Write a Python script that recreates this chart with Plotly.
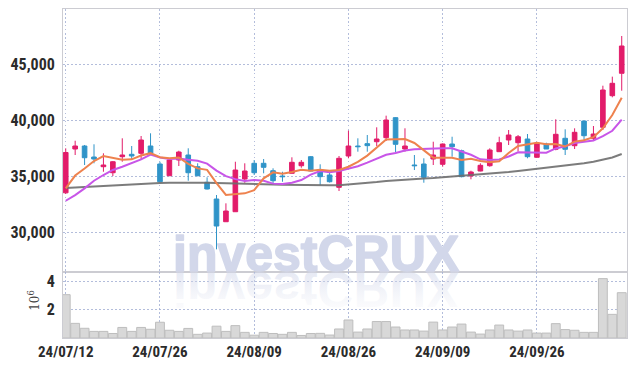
import plotly.graph_objects as go
from plotly.subplots import make_subplots

dates = ["24/07/12", "24/07/15", "24/07/16", "24/07/17", "24/07/18", "24/07/19",
         "24/07/22", "24/07/23", "24/07/24", "24/07/25", "24/07/26", "24/07/29",
         "24/07/30", "24/07/31", "24/08/01", "24/08/02", "24/08/05", "24/08/06",
         "24/08/07", "24/08/08", "24/08/09", "24/08/12", "24/08/13", "24/08/14",
         "24/08/16", "24/08/19", "24/08/20", "24/08/21", "24/08/22", "24/08/23",
         "24/08/26", "24/08/27", "24/08/28", "24/08/29", "24/08/30", "24/09/02",
         "24/09/03", "24/09/04", "24/09/05", "24/09/06", "24/09/09", "24/09/10",
         "24/09/11", "24/09/12", "24/09/13", "24/09/19", "24/09/20", "24/09/23",
         "24/09/24", "24/09/25", "24/09/26", "24/09/27", "24/09/30", "24/10/02",
         "24/10/04", "24/10/07", "24/10/08", "24/10/10", "24/10/11", "24/10/14"]

opens = [33500, 37410, 37678, 36696, 35830, 35294, 36724, 36937, 37026, 37678,
         36071, 35026, 36428, 36875, 35830, 34437, 32946, 30919, 31811, 34731,
         36134, 36134, 35473, 35000, 35240, 35919, 36724, 35535, 35090, 33990,
         36785, 37678, 37887, 38062, 38420, 40208, 37410, 35982, 36071, 36517,
         36044, 37857, 37258, 35000, 35446, 35919, 37170, 38214, 37973, 38303,
         36670, 37857, 37384, 38366, 37705, 39911, 38366, 39348, 42170, 44170]
highs = [37470, 38150, 37770, 37830, 37026, 36340, 38366, 37678, 38571, 38812,
         36276, 36580, 37258, 37473, 36134, 34883, 33303, 32561, 36276, 36134,
         36428, 36517, 35687, 35380, 36670, 36428, 36785, 36044, 35267, 36785,
         39045, 38366, 38660, 39348, 40387, 40250, 39259, 36875, 36580, 38062,
         37900, 38508, 37350, 35473, 36134, 37473, 38508, 39107, 38660, 38750,
         37950, 37973, 40062, 39170, 39259, 39911, 39464, 43063, 43870, 47500]
lows = [33400, 36875, 35982, 36134, 35383, 35000, 36276, 36430, 36430, 36875,
        34464, 35026, 35892, 34580, 34980, 33800, 28454, 30919, 31811, 34401,
        35090, 35240, 34196, 34490, 35240, 35740, 35446, 34196, 34420, 33660,
        36580, 37170, 37170, 37678, 38125, 37116, 37170, 35535, 34401, 35982,
        35830, 36724, 34883, 34705, 35420, 35830, 37170, 37768, 37200, 36580,
        36670, 37410, 37300, 36875, 37410, 38214, 38214, 39107, 42027, 42616]
closes = [37100, 37678, 36633, 36517, 35982, 36276, 36875, 36785, 38214, 37026,
          34490, 36428, 37142, 35294, 35026, 33840, 30534, 31874, 35535, 35446,
          35294, 35776, 34580, 34940, 36223, 36223, 35446, 34940, 34490, 36580,
          37678, 37620, 37710, 38303, 40000, 37830, 37678, 35920, 34883, 36875,
          37857, 37616, 34940, 35357, 35955, 37321, 37973, 38660, 38508, 36724,
          37920, 37410, 38723, 37384, 38901, 38598, 38750, 42679, 43277, 46607]

ma5 = [33900, 35040, 35670, 36340, 36780, 36620, 36460, 36490, 36830, 37040,
       36680, 36590, 36660, 36080, 35680, 35550, 34370, 33310, 33360, 33450,
       33740, 34790, 35330, 35210, 35360, 35550, 35480, 35550, 35460, 35540,
       35830, 36260, 36820, 37580, 38260, 38290, 38300, 37950, 37260, 36640,
       36640, 36630, 36430, 36530, 36350, 36240, 36310, 37050, 37680, 37840,
       37960, 37840, 37860, 37630, 38070, 38200, 38470, 39260, 40440, 41980]
ma10 = [32790, 33300, 33900, 34580, 35090, 35540, 35830, 36130, 36490, 36910,
        36650, 36520, 36570, 36450, 36360, 36110, 35480, 34990, 34720, 34560,
        34640, 34580, 34320, 34290, 34400, 34640, 35130, 35440, 35340, 35450,
        35690, 35870, 36190, 36520, 36900, 37060, 37280, 37380, 37420, 37450,
        37470, 37470, 37190, 36900, 36490, 36440, 36470, 36740, 37110, 37090,
        37100, 37080, 37460, 37660, 37950, 38080, 38160, 38560, 39040, 40030]
ma_long = [33930, 33960, 34000, 34050, 34110, 34160, 34210, 34260, 34300, 34340,
           34370, 34390, 34400, 34400, 34400, 34390, 34370, 34360, 34330, 34300,
           34290, 34270, 34250, 34230, 34210, 34200, 34180, 34160, 34170, 34180,
           34240, 34300, 34370, 34460, 34550, 34620, 34690, 34730, 34780, 34820,
           34880, 34940, 35000, 35060, 35130, 35210, 35290, 35360, 35450, 35540,
           35630, 35710, 35800, 35890, 36000, 36130, 36280, 36450, 36650, 36960]

volumes_m = [3.08, 1.04, 0.69, 0.47, 0.47, 0.32, 0.75, 0.47, 0.75, 0.62,
             1.12, 0.55, 0.47, 0.68, 0.26, 0.35, 0.84, 0.47, 0.88, 0.40,
             0.20, 0.40, 0.32, 0.26, 0.40, 0.18, 0.32, 0.33, 0.21, 0.64,
             1.28, 0.42, 0.64, 1.17, 1.17, 0.78, 0.57, 0.57, 0.49, 1.13,
             0.57, 0.78, 0.99, 0.42, 0.28, 0.57, 0.92, 0.57, 0.49, 0.57,
             0.35, 0.35, 1.02, 0.60, 0.55, 0.40, 0.40, 4.22, 1.68, 3.22]

price_ticks = [30000, 35000, 40000, 45000]
volume_ticks = [2, 4]
date_ticks = [dates[i] for i in (0, 10, 20, 30, 40, 50)]

UP = "rgb(226,28,106)"
DOWN = "rgb(48,148,200)"
GRID = "rgba(160,172,210,0.8)"
GRIDDASH = "1.5px,2.5px"
FRAME = "rgb(204,204,210)"
TICKFONT = dict(family="Liberation Sans Narrow, Arial Narrow, Roboto Condensed, Liberation Sans, sans-serif",
                size=16, color="#2b2b2b", weight="bold")

VOL_FRAC = 0.2006

fig = make_subplots(rows=2, cols=1, shared_xaxes=True, vertical_spacing=0,
                    row_heights=[1 - VOL_FRAC, VOL_FRAC])

fig.add_trace(go.Candlestick(
    x=dates, open=opens, high=highs, low=lows, close=closes,
    increasing=dict(line=dict(color=UP, width=1), fillcolor=UP),
    decreasing=dict(line=dict(color=DOWN, width=1), fillcolor=DOWN),
    whiskerwidth=0, showlegend=False, hoverinfo="skip"), row=1, col=1)

fig.add_trace(go.Scatter(x=dates, y=ma_long, mode="lines", showlegend=False,
                         line=dict(color="rgba(110,110,110,0.9)", width=2)), row=1, col=1)
fig.add_trace(go.Scatter(x=dates, y=ma10, mode="lines", showlegend=False,
                         line=dict(color="rgb(200,85,232)", width=2)), row=1, col=1)
fig.add_trace(go.Scatter(x=dates, y=ma5, mode="lines", showlegend=False,
                         line=dict(color="rgb(238,130,78)", width=2)), row=1, col=1)

fig.add_trace(go.Bar(x=dates, y=volumes_m, showlegend=False,
                     marker=dict(color="rgb(216,216,216)",
                                 line=dict(color="rgb(190,190,190)", width=1))),
              row=2, col=1)

xaxis_common = dict(type="category", range=[-0.29, 59.56], autorange=False,
                    tickmode="array", tickvals=date_ticks, ticktext=date_ticks,
                    showgrid=True, gridcolor=GRID, griddash=GRIDDASH, gridwidth=1,
                    showline=True, linecolor=FRAME, linewidth=1, mirror=True,
                    ticks="", zeroline=False, automargin=False,
                    rangeslider=dict(visible=False))
fig.update_xaxes(**xaxis_common)
fig.update_xaxes(showticklabels=False, row=1, col=1)
fig.update_xaxes(showticklabels=True, tickfont=dict(TICKFONT, size=15), row=2, col=1)

fig.update_yaxes(range=[26430, 49910], autorange=False, tickmode="array", tickvals=price_ticks,
                 tickformat=",d", tickfont=TICKFONT, ticks="",
                 showgrid=True, gridcolor=GRID, griddash=GRIDDASH, gridwidth=1,
                 showline=True, linecolor=FRAME, linewidth=1, mirror=True,
                 zeroline=False, ticklabelstandoff=4, automargin=False, row=1, col=1)
fig.update_yaxes(range=[0, 4.69], autorange=False, tickmode="array", tickvals=volume_ticks,
                 ticktext=[str(v) for v in volume_ticks], tickfont=TICKFONT, ticks="",
                 showgrid=True, gridcolor=GRID, griddash=GRIDDASH, gridwidth=1,
                 showline=True, linecolor=FRAME, linewidth=1, mirror=True,
                 zeroline=False, ticklabelstandoff=4, automargin=False, row=2, col=1)

WM_FONT = dict(family="Liberation Sans, Arial, sans-serif", size=50,
               color="rgb(210,215,234)", weight="bold")
fig.add_annotation(text="investCRUX", xref="paper", yref="paper", x=0.448, y=VOL_FRAC,
                   xanchor="center", yanchor="bottom", showarrow=False,
                   font=WM_FONT, yshift=-12)
fig.add_annotation(text="investCRUX", xref="paper", yref="paper", x=0.448, y=VOL_FRAC,
                   xanchor="center", yanchor="bottom", showarrow=False,
                   font=WM_FONT, yshift=-46.7)
fig.add_annotation(text="10<sup>6</sup>", xref="paper", yref="paper", x=-0.052, y=0.115,
                   xanchor="center", yanchor="middle", showarrow=False, textangle=-90,
                   font=dict(family="DejaVu Serif, serif", size=12, color="#444"))

fig.update_layout(width=635, height=366, margin=dict(l=63, r=8, t=9, b=28, autoexpand=False),
                  paper_bgcolor="white", plot_bgcolor="white",
                  bargap=0.06, boxgap=0.3, showlegend=False, hovermode=False)

post_js = """
document.documentElement.style.margin = '0';
document.documentElement.style.padding = '0';
document.body.style.margin = '0';
document.body.style.padding = '0';
var gd = document.querySelector('.plotly-graph-div');
var anns = gd.querySelectorAll('g.annotation');
anns.forEach(function(a){
  var idx = a.getAttribute('data-index');
  var t = a.querySelector('text');
  if (idx === '0') {
    t.style.stroke = 'rgb(210,215,234)';
    t.style.strokeWidth = '1.6px';
    t.style.strokeLinejoin = 'round';
  }
  if (idx === '1') {
    var svg = t.ownerSVGElement;
    var ns = 'http://www.w3.org/2000/svg';
    var defs = svg.querySelector('defs');
    if (!defs) { defs = document.createElementNS(ns, 'defs'); svg.insertBefore(defs, svg.firstChild); }
    var lg = document.createElementNS(ns, 'linearGradient');
    lg.setAttribute('id', 'wmReflect');
    lg.setAttribute('x1', '0'); lg.setAttribute('y1', '0');
    lg.setAttribute('x2', '0'); lg.setAttribute('y2', '1');
    [['0', '0.0'], ['0.35', '0.2'], ['0.8', '0.55'], ['1', '0.6']].forEach(function(s){
      var st = document.createElementNS(ns, 'stop');
      st.setAttribute('offset', s[0]);
      st.setAttribute('stop-color', 'rgb(210,215,234)');
      st.setAttribute('stop-opacity', s[1]);
      lg.appendChild(st);
    });
    defs.appendChild(lg);
    t.style.fill = 'url(#wmReflect)';
    t.style.transformBox = 'fill-box';
    t.style.transformOrigin = 'center';
    t.style.transform = 'scaleY(-1)';
  }
});
"""

fig.write_html("out.html", post_script=post_js, config={"displayModeBar": False})
